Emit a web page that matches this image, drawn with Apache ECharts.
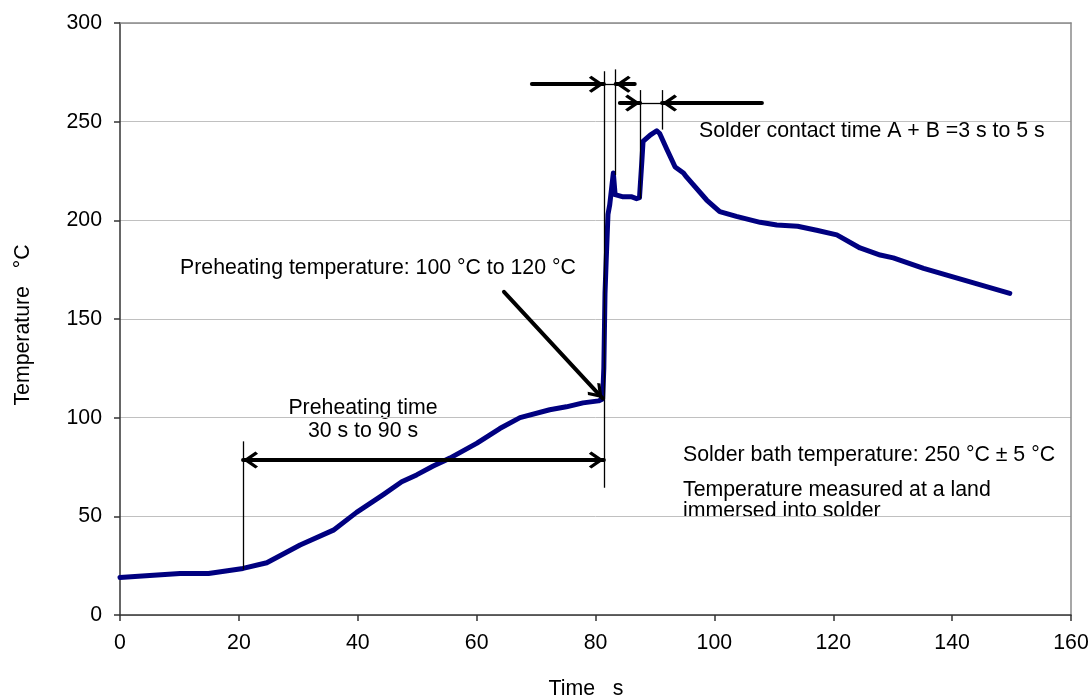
<!DOCTYPE html>
<html>
<head>
<meta charset="utf-8">
<title>Soldering temperature profile</title>
<script src="https://cdn.jsdelivr.net/npm/echarts@6/dist/echarts.min.js"></script>
<style>
  html, body { margin: 0; padding: 0; background: #fff; }
  #main { width: 1092px; height: 699px; }
</style>
</head>
<body>
<div id="main"></div>
<script>
// measured temperature profile (time in s, temperature in °C)
var timeS = [0, 5, 10.1, 14.9, 20.7, 24.7, 30.3, 35.9, 39.8, 44.3, 47.4, 49.9, 52.7, 55.5,
  60.0, 63.9, 67.3, 72.3, 75.1, 77.9, 80.5, 81.2, 81.4, 81.6, 81.8, 82.1, 82.4, 82.7, 83.0,
  83.3, 83.6, 84.5, 86.0, 86.9, 87.4, 87.8, 88.0, 89.2, 90.3, 90.8, 92.0, 93.4, 94.8, 95.3,
  98.7, 100.9, 103.7, 107.7, 110.5, 114.0, 117.2, 120.6, 124.5, 127.9, 130.1, 135.2, 149.7];
var tempC = [19, 20, 21, 21, 23.6, 26.5, 35.5, 43, 52, 61, 67.5, 71, 75.5, 79.5,
  87, 94.5, 100, 104, 105.5, 107.5, 108.5, 109.5, 125, 163, 180, 203, 208, 216, 224,
  213, 212, 212, 212, 211, 211.5, 230, 240, 243.2, 245.4, 244, 236, 227, 224, 222,
  210.3, 204.4, 202, 199, 197.6, 197, 195, 192.6, 186, 182.4, 181, 175.7, 163];

var xTicks = [0, 20, 40, 60, 80, 100, 120, 140, 160];
var yTicks = [0, 50, 100, 150, 200, 250, 300];

// guide lines and arrows, in chart units [time, temperature]
var guideLines = [
  [[81.4, 275.5], [81.4, 64.5]],
  [[83.4, 276.5], [83.4, 223]],
  [[87.5, 266], [87.5, 211]],
  [[91.2, 266], [91.2, 246]],
  [[20.7, 88], [20.7, 23]],
  [[81.4, 269], [83.4, 269]],
  [[87.5, 259.4], [91.2, 259.4]]
];
// tail -> tip
var arrows = [
  [[69.3, 269], [81.4, 269]],
  [[86.6, 269], [83.4, 269]],
  [[84.1, 259.4], [87.5, 259.4]],
  [[108.0, 259.4], [91.2, 259.4]],
  [[64.6, 163.8], [81.2, 109.8]]
];
var doubleArrows = [
  [[20.7, 78.5], [81.4, 78.5]]
];

var FONT = '"Liberation Sans", Arial, sans-serif';
var FS = 21.3;
// open chevron head; the speck above the tip puts the symbol centre
// on the tip so the tip lands on the line end
var CHEVRON = 'path://M49.6,0 L50.4,0 L50,0.4 Z M50,82 L100,150 L88,164 L50,114 L12,164 L0,150 Z';

var myChart = echarts.init(document.getElementById('main'));

var curve = timeS.map(function (t, i) { return [t, tempC[i]]; });

var guideData = guideLines.map(function (l) {
  return [{ coord: l[0] }, { coord: l[1] }];
});
var arrowData = arrows.map(function (a) {
  return [{ coord: a[0], symbol: 'none' }, { coord: a[1], symbol: CHEVRON }];
}).concat(doubleArrows.map(function (a) {
  return [{ coord: a[0], symbol: CHEVRON }, { coord: a[1], symbol: CHEVRON }];
}));

function txt(text, x, y, align, rot) {
  return {
    type: 'text',
    x: x,
    y: y,
    rotation: rot || 0,
    silent: true,
    style: {
      text: text,
      fill: '#000',
      font: FS + 'px ' + FONT,
      align: align,
      textAlign: align,
      verticalAlign: 'middle',
      textVerticalAlign: 'middle'
    }
  };
}

var xMin = xTicks[0], xMax = xTicks[xTicks.length - 1];
var yMin = yTicks[0], yMax = yTicks[yTicks.length - 1];

myChart.setOption({
  animation: false,
  backgroundColor: '#fff',
  textStyle: { fontFamily: FONT },
  grid: { left: 120, right: 21, top: 23, bottom: 84 },
  xAxis: [
    {
      type: 'value',
      min: xMin,
      max: xMax,
      interval: xTicks[1] - xTicks[0],
      position: 'bottom',
      axisLine: { show: true, onZero: false, lineStyle: { color: '#333', width: 1.5 } },
      axisTick: { show: true, length: 6, lineStyle: { color: '#333', width: 1.5 } },
      axisLabel: { color: '#000', fontSize: FS, margin: 18, fontFamily: FONT },
      splitLine: { show: false }
    },
    {
      type: 'value',
      min: xMin,
      max: xMax,
      position: 'top',
      axisLine: { show: true, onZero: false, lineStyle: { color: '#8a8a8a', width: 1.5 } },
      axisTick: { show: false },
      axisLabel: { show: false },
      splitLine: { show: false }
    }
  ],
  yAxis: [
    {
      type: 'value',
      min: yMin,
      max: yMax,
      interval: yTicks[1] - yTicks[0],
      position: 'left',
      axisLine: { show: true, onZero: false, lineStyle: { color: '#333', width: 1.5 } },
      axisTick: { show: true, length: 6, lineStyle: { color: '#333', width: 1.5 } },
      axisLabel: { color: '#000', fontSize: FS, margin: 18, fontFamily: FONT },
      splitLine: { show: true, lineStyle: { color: '#c0c0c0', width: 1 } }
    },
    {
      type: 'value',
      min: yMin,
      max: yMax,
      position: 'right',
      axisLine: { show: true, onZero: false, lineStyle: { color: '#8a8a8a', width: 1.5 } },
      axisTick: { show: false },
      axisLabel: { show: false },
      splitLine: { show: false }
    }
  ],
  series: [
    {
      name: 'Temperature',
      type: 'line',
      data: curve,
      showSymbol: false,
      symbol: 'none',
      z: 2,
      lineStyle: { color: '#000080', width: 5, join: 'round', cap: 'round' }
    },
    {
      name: 'guides',
      type: 'line',
      data: [],
      z: 4,
      markLine: {
        silent: true,
        animation: false,
        symbol: 'none',
        label: { show: false },
        lineStyle: { color: '#000', width: 1.3, type: 'solid' },
        emphasis: { disabled: true },
        data: guideData
      }
    },
    {
      name: 'arrows',
      type: 'line',
      data: [],
      z: 5,
      markLine: {
        silent: true,
        animation: false,
        symbolSize: [17, 30],
        label: { show: false },
        lineStyle: { color: '#000', width: 4, type: 'solid', cap: 'round' },
        itemStyle: { color: '#000' },
        emphasis: { disabled: true },
        data: arrowData
      }
    }
  ],
  graphic: [
    txt('Solder contact time A + B =3 s to 5 s', 699, 131, 'left'),
    txt('Preheating temperature: 100 °C to 120 °C', 180, 268, 'left'),
    txt('Preheating time', 363, 408, 'center'),
    txt('30 s to 90 s', 363, 431, 'center'),
    txt('Solder bath temperature: 250 °C ± 5 °C', 683, 455, 'left'),
    txt('Temperature measured at a land', 683, 490, 'left'),
    txt('immersed into solder', 683, 511, 'left'),
    txt('Time   s', 586, 689, 'center'),
    txt('Temperature   °C', 23, 325, 'center', Math.PI / 2)
  ]
});
</script>
</body>
</html>
